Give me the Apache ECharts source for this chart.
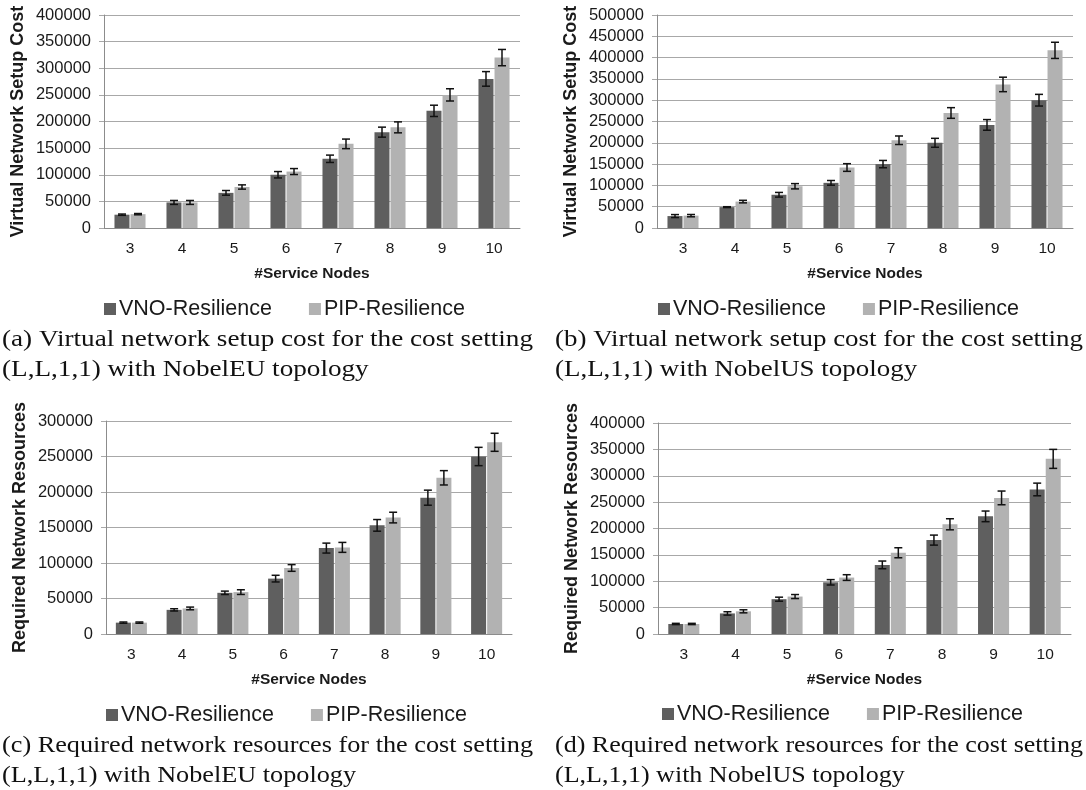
<!DOCTYPE html>
<html>
<head>
<meta charset="utf-8">
<script src="https://cdn.jsdelivr.net/npm/echarts@6/dist/echarts.min.js"></script>
<style>
html,body{margin:0;padding:0;background:#fff;}
#chart{width:1086px;height:790px;}
</style>
</head>
<body>
<div id="chart"></div>
<script>
// ---------- data ----------
const categories = ['3', '4', '5', '6', '7', '8', '9', '10'];
const seriesNames = ['VNO-Resilience', 'PIP-Resilience'];

// (a) Virtual network setup cost, NobelEU
const costEU_VNO = [25000, 48000, 66000, 100000, 130000, 180000, 220000, 280000];
const costEU_PIP = [26000, 48000, 77000, 106000, 158000, 189000, 250000, 320000];
const costEU_VNO_err = [1200, 3700, 4400, 6000, 6900, 9400, 10600, 13700];
const costEU_PIP_err = [1200, 3700, 4000, 5600, 9000, 10300, 11500, 15300];

// (b) Virtual network setup cost, NobelUS
const costUS_VNO = [28000, 49000, 78000, 106000, 150000, 200000, 242000, 300000];
const costUS_PIP = [29000, 62000, 98000, 142000, 206000, 270000, 337000, 417000];
const costUS_VNO_err = [3500, 1000, 5500, 5500, 8600, 10500, 12500, 13700];
const costUS_PIP_err = [2700, 3000, 6200, 9000, 10000, 12500, 17000, 19000];

// (c) Required network resources, NobelEU
const resEU_VNO = [16000, 34000, 58000, 78000, 121000, 153000, 192000, 250000];
const resEU_PIP = [16000, 36000, 59000, 93000, 122000, 164000, 220000, 270000];
const resEU_VNO_err = [900, 1600, 2400, 4700, 7000, 8200, 10600, 12900];
const resEU_PIP_err = [900, 1900, 3300, 4700, 7000, 7500, 10100, 12700];

// (d) Required network resources, NobelUS
const resUS_VNO = [19000, 39000, 66000, 98000, 131000, 178000, 223000, 274000];
const resUS_PIP = [19000, 43000, 71000, 107000, 154000, 208000, 258000, 332000];
const resUS_VNO_err = [1200, 3200, 3800, 5100, 7300, 9500, 10100, 12000];
const resUS_PIP_err = [1200, 2900, 3800, 5400, 9500, 10500, 13000, 18000];

const yMaxes = [400000, 500000, 300000, 400000];
const yInterval = 50000;
const yNames = ['Virtual Network Setup Cost', 'Virtual Network Setup Cost',
                'Required Network Resources', 'Required Network Resources'];
const xName = '#Service Nodes';
const captions = [
  ['(a) Virtual network setup cost for the cost setting', '(L,L,1,1) with NobelEU topology'],
  ['(b) Virtual network setup cost for the cost setting', '(L,L,1,1) with NobelUS topology'],
  ['(c) Required network resources for the cost setting', '(L,L,1,1) with NobelEU topology'],
  ['(d) Required network resources for the cost setting', '(L,L,1,1) with NobelUS topology']
];

const panelData = [
  [costEU_VNO, costEU_PIP, costEU_VNO_err, costEU_PIP_err],
  [costUS_VNO, costUS_PIP, costUS_VNO_err, costUS_PIP_err],
  [resEU_VNO, resEU_PIP, resEU_VNO_err, resEU_PIP_err],
  [resUS_VNO, resUS_PIP, resUS_VNO_err, resUS_PIP_err]
];

// ---------- layout / style ----------
const FONT = "'Liberation Sans', Arial, sans-serif";
const SERIF = "'Liberation Serif', 'Times New Roman', serif";
const TEXT = '#1a1a1a';
const DARK = '#5f5f5f';
const LIGHT = '#b2b2b2';
const GRIDC = '#a8a8a8';
const AXISC = '#8c8c8c';

const grids = [
  {left: 104, top: 15, width: 416, height: 213},
  {left: 657, top: 15, width: 416, height: 213},
  {left: 106, top: 421, width: 406, height: 213},
  {left: 658, top: 423, width: 413, height: 211}
];
const legendPos = [
  {left: 104, top: 298},
  {left: 658, top: 298},
  {left: 106, top: 704},
  {left: 662, top: 703}
];
const captionPos = [
  {x: 2, y: 340, w: 531},
  {x: 555, y: 340, w: 528},
  {x: 2, y: 746, w: 531},
  {x: 555, y: 746, w: 528}
];
const BAR_W = 15;
const BAR_OFF = 8;

const measureCtx = document.createElement('canvas').getContext('2d');
function textWidth(str, font) {
  measureCtx.font = font;
  return measureCtx.measureText(str).width;
}

const xAxes = [], yAxes = [], series = [], legends = [], graphics = [];

function errRender(offset) {
  return function (params, api) {
    const idx = api.value(0);
    const v = api.value(1);
    const e = api.value(2);
    const top = api.coord([idx, v + e]);
    const bot = api.coord([idx, v - e]);
    const x = top[0] + offset;
    const cap = 4;
    const st = {stroke: '#111', lineWidth: 1.5};
    return {
      type: 'group',
      children: [
        {type: 'line', shape: {x1: x, y1: top[1], x2: x, y2: bot[1]}, style: st},
        {type: 'line', shape: {x1: x - cap, y1: top[1], x2: x + cap, y2: top[1]}, style: st},
        {type: 'line', shape: {x1: x - cap, y1: bot[1], x2: x + cap, y2: bot[1]}, style: st}
      ]
    };
  };
}

panelData.forEach((pd, i) => {
  xAxes.push({
    type: 'category', gridIndex: i, data: categories,
    name: xName, nameLocation: 'middle', nameGap: 38,
    nameTextStyle: {fontFamily: FONT, fontWeight: 'bold', fontSize: 15.5, color: TEXT},
    axisLine: {lineStyle: {color: AXISC, width: 1}},
    axisTick: {show: false},
    axisLabel: {fontFamily: FONT, fontSize: 15.5, color: TEXT, margin: 13},
    splitLine: {show: false}
  });
  yAxes.push({
    type: 'value', gridIndex: i, min: 0, max: yMaxes[i], interval: yInterval,
    name: yNames[i], nameLocation: 'middle', nameGap: 77, nameRotate: 90,
    nameTextStyle: {fontFamily: FONT, fontWeight: 'bold', fontSize: 18, color: TEXT},
    axisLine: {show: true, lineStyle: {color: AXISC, width: 1}},
    axisTick: {show: true, length: 5, lineStyle: {color: GRIDC}},
    axisLabel: {fontFamily: FONT, fontSize: 16.5, color: TEXT, margin: 13,
                formatter: v => String(v)},
    splitLine: {show: true, lineStyle: {color: GRIDC, width: 1}}
  });
  series.push({
    name: seriesNames[0], type: 'bar', xAxisIndex: i, yAxisIndex: i,
    data: pd[0], barWidth: BAR_W, barGap: '7%',
    itemStyle: {color: DARK}, emphasis: {disabled: true}
  });
  series.push({
    name: seriesNames[1], type: 'bar', xAxisIndex: i, yAxisIndex: i,
    data: pd[1], barWidth: BAR_W, barGap: '7%',
    itemStyle: {color: LIGHT}, emphasis: {disabled: true}
  });
  series.push({
    type: 'custom', name: 'err-vno-' + i, xAxisIndex: i, yAxisIndex: i, z: 10,
    renderItem: errRender(-BAR_OFF),
    data: pd[0].map((v, k) => [k, v, pd[2][k]]),
    encode: {x: 0, y: 1}, silent: true
  });
  series.push({
    type: 'custom', name: 'err-pip-' + i, xAxisIndex: i, yAxisIndex: i, z: 10,
    renderItem: errRender(BAR_OFF),
    data: pd[1].map((v, k) => [k, v, pd[3][k]]),
    encode: {x: 0, y: 1}, silent: true
  });
  legends.push({
    data: seriesNames, left: legendPos[i].left, top: legendPos[i].top,
    padding: 0, icon: 'rect', itemWidth: 12, itemHeight: 12, itemGap: 37,
    textStyle: {fontFamily: FONT, fontSize: 21.5, color: TEXT, padding: [0, 0, 0, -2]},
    selectedMode: false
  });
  const cp = captionPos[i];
  captions[i].forEach((line, j) => {
    const fs = 23;
    const sx = cp.w / textWidth(captions[i][0], fs + 'px ' + SERIF);
    graphics.push({
      type: 'text', x: cp.x, y: cp.y + j * 30, scaleX: sx, silent: true,
      style: {text: line, fontFamily: SERIF, fontSize: fs, fill: '#111',
              textVerticalAlign: 'middle', verticalAlign: 'middle', align: 'left'}
    });
  });
});

const chart = echarts.init(document.getElementById('chart'), null, {renderer: 'canvas'});
chart.setOption({
  backgroundColor: '#ffffff',
  animation: false,
  grid: grids,
  xAxis: xAxes,
  yAxis: yAxes,
  legend: legends,
  series: series,
  graphic: graphics
});
</script>
</body>
</html>
